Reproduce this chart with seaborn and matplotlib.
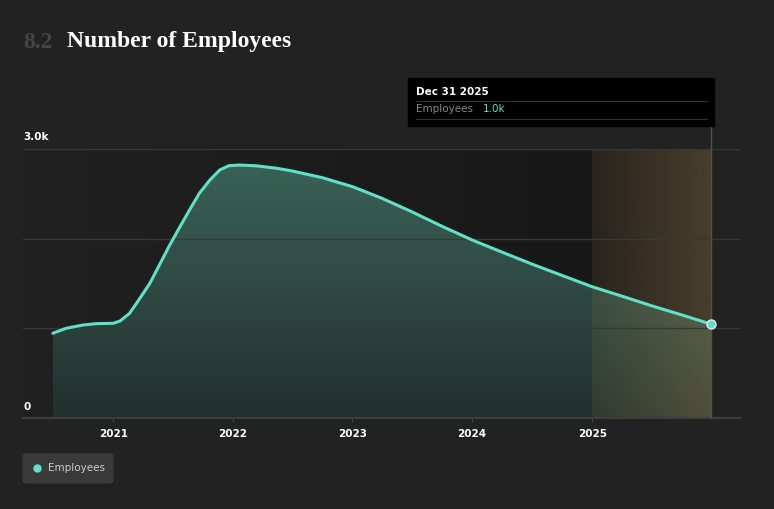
import matplotlib
matplotlib.use("Agg")
import matplotlib.pyplot as plt
import matplotlib.dates as mdates
from matplotlib.patches import Rectangle, FancyBboxPatch
from matplotlib.lines import Line2D
import seaborn as sns
import numpy as np
import pandas as pd

# values
fechas = ["2020-07-01", "2020-08-10", "2020-10-01", "2020-11-10", "2021-01-01",
          "2021-01-22", "2021-02-20", "2021-03-20", "2021-04-23", "2021-05-22",
          "2021-06-21", "2021-07-24", "2021-08-22", "2021-09-21", "2021-10-23",
          "2021-11-22", "2021-12-20", "2022-01-22", "2022-03-15", "2022-05-15",
          "2022-07-01", "2022-10-01", "2023-01-01", "2023-04-01", "2023-07-01",
          "2023-10-01", "2024-01-01", "2024-04-01", "2024-07-01", "2024-10-01",
          "2025-01-01", "2025-04-01", "2025-07-01", "2025-10-01", "2025-12-31"]
empleados = [945, 1000, 1037, 1052, 1056, 1082, 1167, 1316, 1502, 1706,
             1918, 2134, 2320, 2506, 2654, 2766, 2814, 2821, 2812, 2785,
             2755, 2680, 2580, 2450, 2300, 2138, 1985, 1850, 1717, 1590,
             1464, 1360, 1252, 1150, 1045]
anios = [2021, 2022, 2023, 2024, 2025]
inicio_prevision = "2025-01-01"

BG = "#222222"
TEAL = "#5fe0c8"

sns.set_theme(style="dark")
plt.rcParams["font.family"] = ["DejaVu Sans"]

df = pd.DataFrame({"fecha": pd.to_datetime(fechas), "empleados": empleados})
xn = mdates.date2num(df["fecha"])

fig = plt.figure(figsize=(7.74, 5.09), dpi=100, facecolor=BG)
ax = fig.add_axes([23 / 774, 91 / 509, 717 / 774, 269 / 509])
ax.set_facecolor(BG)

x_left = mdates.date2num(pd.Timestamp("2020-04-01"))
x_right = mdates.date2num(pd.Timestamp("2026-03-28"))
x_prev = mdates.date2num(pd.Timestamp(inicio_prevision))
x_end = xn[-1]

# darker history background
grad = np.linspace(0, 1, 256)
bg = np.zeros((2, 256, 4))
c0 = np.array([33, 33, 33]) / 255
c1 = np.array([24, 24, 24]) / 255
bg[..., :3] = c0 + (c1 - c0) * grad[None, :, None]
bg[..., 3] = 1
ax.imshow(bg, extent=[x_left, x_prev, 0, 3000], aspect="auto", zorder=0)

# forecast background
fc = np.zeros((2, 256, 4))
fc[..., :3] = c1
fc[..., 3] = 1
ax.imshow(fc, extent=[x_prev, x_end, 0, 3000], aspect="auto", zorder=0)

# area under curve, vertical gradient
poly = ax.fill_between(xn, df["empleados"], 0, color="none", lw=0)
gy = np.linspace(1, 0, 256)
top = np.array([60, 100, 89]) / 255
bot = np.array([34, 48, 44]) / 255
area = np.zeros((256, 2, 4))
area[..., :3] = bot + (top - bot) * gy[:, None, None]
area[..., 3] = 1
im = ax.imshow(area, extent=[xn[0], x_end, 0, 3000], aspect="auto", zorder=1)
im.set_clip_path(poly.get_paths()[0], transform=ax.transData)

# warm forecast overlay
ov = np.zeros((2, 256, 4))
ov[..., :3] = np.array([205, 165, 95]) / 255
ov[..., 3] = np.linspace(0.09, 0.27, 256)[None, :]
ax.imshow(ov, extent=[x_prev, x_end, 0, 3000], aspect="auto", zorder=2)

for yv in [1000, 2000, 3000]:
    ax.axhline(yv, color="#383838", lw=1, zorder=3)

sns.lineplot(x=xn, y=df["empleados"], ax=ax, color=TEAL, lw=2.2, zorder=5)
ax.plot([x_end], [empleados[-1]], "o", ms=6.5, color=TEAL, mec="#e8e8e8", mew=1,
        zorder=6, clip_on=False)

# crosshair
ax.plot([x_end, x_end], [0, 3260], color="#5a5040", lw=1, zorder=4, clip_on=False)

ax.set_xlim(x_left, x_right)
ax.set_ylim(0, 3000)
ax.set_xlabel("")
ax.set_ylabel("")
ax.set_yticks([])
ticks = [mdates.date2num(pd.Timestamp(f"{a}-01-01")) for a in anios]
ax.set_xticks(ticks)
ax.set_xticklabels([str(a) for a in anios], color="white", fontsize=7.5,
                   fontweight="bold")
ax.tick_params(axis="x", length=3, color="#444444", width=1, pad=5, bottom=True)
for s in ["top", "left", "right"]:
    ax.spines[s].set_visible(False)
ax.spines["bottom"].set_color("#3e3e3e")
ax.spines["bottom"].set_linewidth(1.5)
ax.grid(False)

# y labels
fig.text(23 / 774, (509 - 137) / 509, "3.0k", color="white", fontsize=7.5,
         fontweight="bold", va="center", ha="left")
fig.text(23 / 774, (509 - 407) / 509, "0", color="white", fontsize=7.5,
         fontweight="bold", va="center", ha="left")

# title
fig.text(23 / 774, (509 - 42) / 509, "8.2", color="#454545", fontsize=17,
         family="Liberation Serif", fontweight="bold", va="center", ha="left")
fig.text(67 / 774, (509 - 42) / 509, "Number of Employees", color="white",
         fontsize=17, family="Liberation Serif", fontweight="bold",
         va="center", ha="left")

# tooltip
fig.patches.append(Rectangle((408 / 774, (509 - 126) / 509), 306 / 774, 48 / 509,
                             transform=fig.transFigure, color="black", zorder=10))
fig.text(416 / 774, (509 - 92) / 509, "Dec 31 2025", color="white", fontsize=7.5,
         fontweight="bold", va="center", ha="left", zorder=11)
for yy in [101, 119]:
    fig.lines.append(Line2D([416 / 774, 707 / 774], [(509 - yy) / 509] * 2,
                            transform=fig.transFigure, color="#333333", lw=0.8,
                            zorder=11))
fig.text(416 / 774, (509 - 109) / 509, "Employees", color="#8a8a8a", fontsize=7.5,
         va="center", ha="left", zorder=11)
fig.text(483 / 774, (509 - 109) / 509, "1.0k", color=TEAL, fontsize=7.5,
         va="center", ha="left", zorder=11)

# legend
fig.patches.append(FancyBboxPatch((23 / 774, (509 - 483) / 509), 90 / 774, 29 / 509,
                                  boxstyle="round,pad=0,rounding_size=0.006",
                                  transform=fig.transFigure, color="#3a3a3a",
                                  zorder=10))
fig.lines.append(Line2D([37 / 774], [(509 - 468) / 509], marker="o", ms=5,
                        color=TEAL, transform=fig.transFigure, zorder=11))
fig.text(48 / 774, (509 - 468) / 509, "Employees", color="#cccccc", fontsize=7.5,
         va="center", ha="left", zorder=11)

fig.savefig("out.png", dpi=100, facecolor=BG)
